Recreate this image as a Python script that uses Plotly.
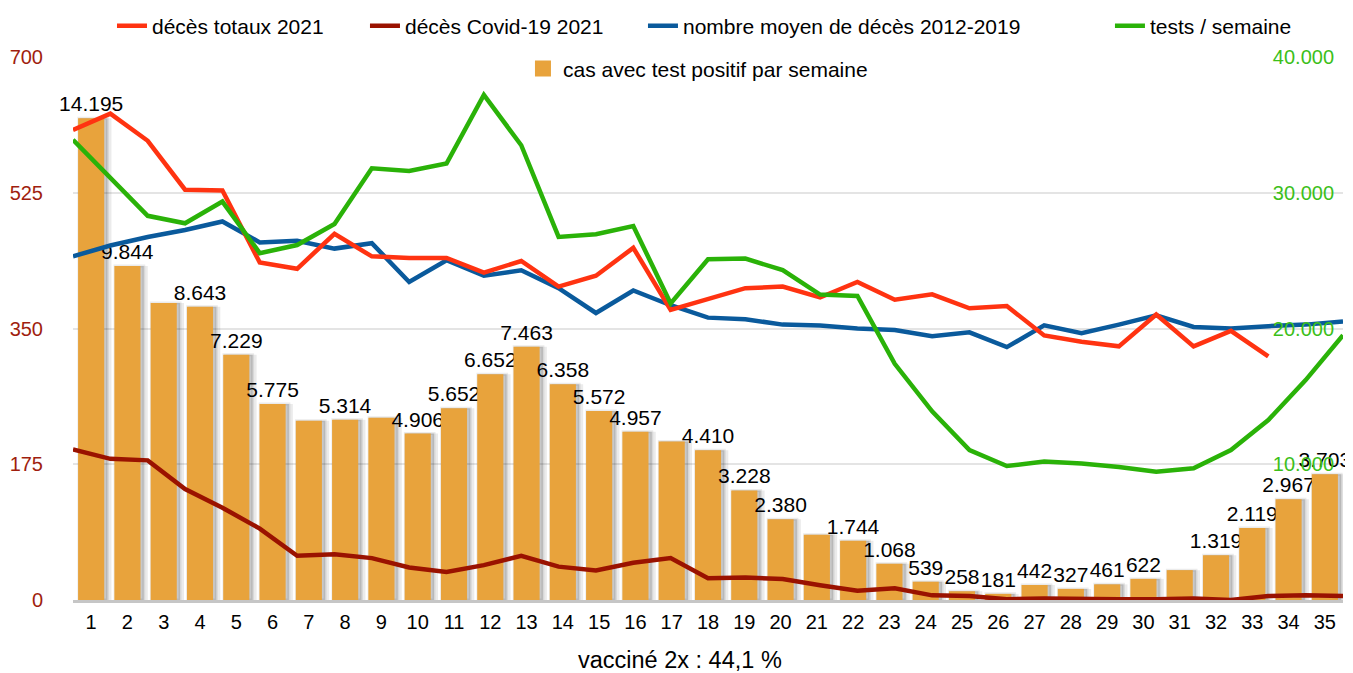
import plotly.graph_objects as go

weeks = list(range(1, 36))
week_labels = [str(w) for w in weeks]

# cas avec test positif par semaine (bars, hidden scale 0-16000)
positive_cases = [14195, 9844, 8750, 8643, 7229, 5775, 5280, 5314, 5370, 4906,
                  5652, 6652, 7463, 6358, 5572, 4957, 4670, 4410, 3228, 2380,
                  1920, 1744, 1068, 539, 258, 181, 442, 327, 461, 622,
                  880, 1319, 2119, 2967, 3703]
unlabeled_weeks = [3, 7, 9, 17, 21, 31]

# décès totaux 2021 (left axis)
total_deaths_2021 = [606, 627, 592, 529, 528, 435, 427, 472, 443, 441,
                     441, 422, 437, 404, 418, 454, 374, 388, 402, 404,
                     390, 410, 387, 394, 376, 379, 341, 333, 327, 368,
                     327, 347, 314, None, None]
# décès Covid-19 2021 (left axis)
covid_deaths_2021 = [194, 182, 180, 143, 119, 92, 57, 59, 54, 42,
                     36, 45, 57, 43, 38, 48, 54, 28, 29, 27,
                     19, 12, 15, 6, 5, 1, 2, 1, 1, 1,
                     2, 0, 5, 6, 5]
# nombre moyen de décès 2012-2019 (left axis)
avg_deaths_2012_2019 = [443, 457, 468, 477, 488, 461, 463, 453, 460, 410,
                        438, 418, 425, 402, 370, 399, 380, 364, 362, 355,
                        354, 350, 348, 340, 345, 326, 354, 344, 355, 367,
                        352, 350, 353, 355, 359]
# tests / semaine (right axis)
tests_per_week = [33900, 31100, 28300, 27750, 29350, 25550, 26150, 27700, 31800, 31600,
                  32150, 37200, 33500, 26750, 26950, 27550, 21850, 25100, 25150, 24300,
                  22500, 22400, 17400, 13900, 11050, 9870, 10200, 10050, 9800, 9450,
                  9700, 11050, 13250, 16200, 19500]

left_ticks = [0, 175, 350, 525, 700]
right_ticks = [10000, 20000, 30000, 40000]

FONT = "Liberation Sans, Arial, sans-serif"
C_RED = "#ff3311"
C_DARKRED = "#9a1200"
C_BLUE = "#0a5a9c"
C_GREEN = "#2ab208"
C_ORANGE = "#e8a33c"


def fmt(v):
    return f"{v:,}".replace(",", ".")


bar_text = ["" if w in unlabeled_weeks else fmt(v) for w, v in zip(weeks, positive_cases)]

fig = go.Figure()

# bar shadows
fig.add_trace(go.Bar(x=weeks, y=positive_cases, xaxis="x", yaxis="y",
                     width=0.86, offset=-0.30,
                     marker=dict(color="rgba(0,0,0,0.08)", line=dict(width=0)),
                     showlegend=False, hoverinfo="skip"))
fig.add_trace(go.Bar(x=weeks, y=positive_cases, xaxis="x", yaxis="y",
                     width=0.79, offset=-0.34,
                     marker=dict(color="rgba(0,0,0,0.15)",
                                 line=dict(width=3, color="rgba(0,0,0,0.08)")),
                     showlegend=False, hoverinfo="skip"))
# bars
fig.add_trace(go.Bar(x=weeks, y=positive_cases, xaxis="x", yaxis="y",
                     width=0.72, offset=-0.36,
                     marker=dict(color=C_ORANGE, line=dict(width=0)),
                     text=bar_text, textposition="outside", cliponaxis=False,
                     constraintext="none",
                     textfont=dict(size=21, color="black", family=FONT),
                     name="cas avec test positif par semaine", showlegend=False))

# lines
fig.add_trace(go.Scatter(x=weeks, y=avg_deaths_2012_2019, xaxis="x2", yaxis="y2",
                         mode="lines", line=dict(color=C_BLUE, width=4.5),
                         name="nombre moyen de décès 2012-2019", legend="legend3"))
fig.add_trace(go.Scatter(x=weeks, y=tests_per_week, xaxis="x2", yaxis="y3",
                         mode="lines", line=dict(color=C_GREEN, width=4.5),
                         name="tests / semaine", legend="legend4"))
fig.add_trace(go.Scatter(x=weeks, y=total_deaths_2021, xaxis="x2", yaxis="y2",
                         mode="lines", line=dict(color=C_RED, width=4.5),
                         name="décès totaux 2021", legend="legend"))
fig.add_trace(go.Scatter(x=weeks, y=covid_deaths_2021, xaxis="x2", yaxis="y2",
                         mode="lines", line=dict(color=C_DARKRED, width=4.5),
                         name="décès Covid-19 2021", legend="legend2"))
# legend proxy for bars (square symbol)
fig.add_trace(go.Scatter(x=[None], y=[None], xaxis="x2", yaxis="y2", mode="markers",
                         marker=dict(symbol="square", size=20, color=C_ORANGE),
                         name="cas avec test positif par semaine", legend="legend5"))

legend_font = dict(family=FONT, size=21, color="black")


def leg(x, y):
    return dict(x=x, y=y, xanchor="left", yanchor="middle", orientation="h",
                bgcolor="rgba(0,0,0,0)", font=legend_font, borderwidth=0,
                itemclick=False, itemdoubleclick=False)


# the page body has an 8px margin: figure is sized/shifted to compensate
fig.update_layout(
    width=1345, height=665,
    margin=dict(l=65, r=10, t=49, b=73, autoexpand=False),
    paper_bgcolor="white", plot_bgcolor="white",
    font=dict(family=FONT, size=20, color="black"),
    separators=",.",
    barmode="overlay",
    xaxis=dict(range=[0.5, 35.5], tickvals=weeks, ticktext=week_labels,
               showgrid=False, zeroline=False, showline=True, linecolor="#c6c6c6",
               linewidth=3, ticks="", tickfont=dict(size=20, color="black"),
               ticklabelstandoff=2, automargin=False),
    yaxis=dict(range=[0, 16000], visible=False, showgrid=False, automargin=False),
    xaxis2=dict(range=[1, 35], overlaying="x", visible=False),
    yaxis2=dict(range=[0, 700], overlaying="y", side="left", tickvals=left_ticks,
                showgrid=True, gridcolor="#e4e4e4", gridwidth=2, zeroline=False,
                showline=False, ticks="", ticklabelstandoff=29, automargin=False,
                tickfont=dict(size=20, color="#a01e0e")),
    yaxis3=dict(range=[0, 40000], overlaying="y", side="right", tickvals=right_ticks,
                tickformat=",d", showgrid=False, zeroline=False, showline=False,
                ticks="", ticklabelposition="inside", ticklabeloverflow="allow",
                ticklabelstandoff=6, automargin=False,
                tickfont=dict(size=20, color="#3cbf1a")),
    legend=leg(0.0307, 1.057),
    legend2=leg(0.2299, 1.057),
    legend3=leg(0.4488, 1.057),
    legend4=leg(0.8165, 1.057),
    legend5=leg(0.3543, 0.978),
    annotations=[dict(text="vacciné 2x : 44,1 %", x=0.478, y=-0.1105,
                      xref="paper", yref="paper", showarrow=False,
                      xanchor="center", yanchor="middle",
                      font=dict(family=FONT, size=23.5, color="black"))],
)

fig.write_html("out.html")
